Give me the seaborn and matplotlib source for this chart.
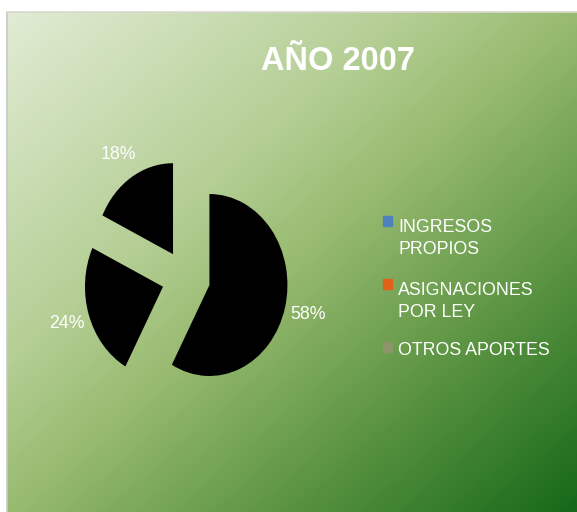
import numpy as np
import matplotlib.pyplot as plt
import seaborn as sns
from matplotlib.colors import LinearSegmentedColormap
from matplotlib.patches import Rectangle

sns.set_theme(style="white")
plt.rcParams['font.family'] = ['Liberation Sans', 'DejaVu Sans']

# datos
categorias = ["INGRESOS\nPROPIOS", "ASIGNACIONES\nPOR LEY", "OTROS APORTES"]
porcentajes = [58, 24, 18]
colores_leyenda = ["#4F81BD", "#E0621A", "#8C9468"]
titulo = "AÑO 2007"

W, H = 577, 512
fig = plt.figure(figsize=(W / 100, H / 100), dpi=100)

# fondo con degradado verde
bg = fig.add_axes([7 / W, 0, 1 - 7 / W, (H - 12) / H])
xx, yy = np.meshgrid(np.linspace(0, 1, 300), np.linspace(0, 1, 300))
t = (xx + yy) / 2
cmap = LinearSegmentedColormap.from_list("verde", [
    (0.0, (225 / 255, 236 / 255, 212 / 255)),
    (0.35, (180 / 255, 206 / 255, 148 / 255)),
    (0.5, (152 / 255, 187 / 255, 112 / 255)),
    (0.75, (88 / 255, 146 / 255, 64 / 255)),
    (1.0, (22 / 255, 105 / 255, 25 / 255)),
])
bg.imshow(t, cmap=cmap, aspect="auto", extent=[0, 1, 1, 0], vmin=0, vmax=1)
bg.set_xlim(0, 1)
bg.set_ylim(1, 0)
bg.axis("off")
fig.add_artist(plt.Line2D([7 / W, 7 / W], [0, (H - 12) / H], color="#c8c8c8", lw=1.2))
fig.add_artist(plt.Line2D([7 / W, 1], [(H - 12) / H, (H - 12) / H], color="#d8d8d0", lw=1.2))

# pastel
ax = fig.add_axes([60 / W, (H - 406) / H, 252 / W, 256 / H])
ax.pie(porcentajes, colors=["black"] * 3, startangle=90, counterclock=False,
       explode=[0.31] * 3, autopct="%1.0f%%", pctdistance=1.3,
       wedgeprops=dict(linewidth=0),
       textprops=dict(color="white", fontsize=12.75))
ax.set_aspect("auto")
ax.set_xlim(-1.615, 1.615)
ax.set_ylim(-1.407, 1.407)
ax.axis("off")

fig.text(338 / W, 1 - 61 / H, titulo, color="white", fontsize=23.5,
         fontweight="bold", ha="center", va="center")

# leyenda (marcador junto a la primera linea)
y = 229
for cat, col in zip(categorias, colores_leyenda):
    n = cat.count("\n")
    fig.add_artist(Rectangle((383 / W, 1 - (y - 3) / H), 9 / W, 10 / H,
                             color=col, transform=fig.transFigure))
    fig.text(398 / W, 1 - (y + 25 * n) / H, cat, color="white", fontsize=12.75,
             ha="left", va="baseline", linespacing=1.42)
    y += 63

fig.savefig("out.png", dpi=100)
